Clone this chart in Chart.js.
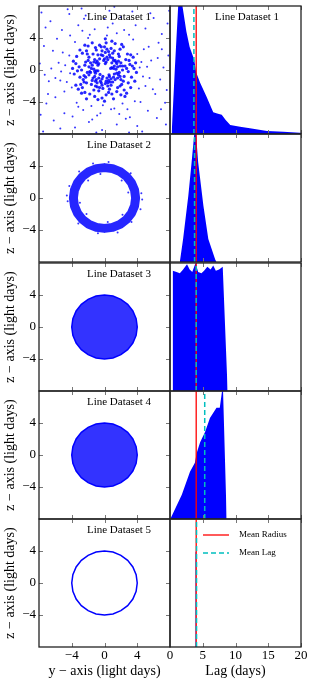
<!DOCTYPE html>
<html>
<head>
<meta charset="utf-8">
<script src="https://cdn.jsdelivr.net/npm/chart.js@4.4.0/dist/chart.umd.min.js"></script>
<style>
  html, body { margin: 0; padding: 0; background: #fff; width: 310px; height: 682px; overflow: hidden; }
  canvas { position: absolute; }
</style>
</head>
<body>
<canvas id="l0"></canvas><canvas id="l1"></canvas><canvas id="l2"></canvas><canvas id="l3"></canvas><canvas id="l4"></canvas>
<canvas id="r0"></canvas><canvas id="r1"></canvas><canvas id="r2"></canvas><canvas id="r3"></canvas><canvas id="r4"></canvas>
<script>
// ---- data ----
const datasetNames = ['Line Dataset 1', 'Line Dataset 2', 'Line Dataset 3', 'Line Dataset 4', 'Line Dataset 5'];
const legendLabels = ['Mean Radius', 'Mean Lag'];
const scatterTicks = [-4, 0, 4];
const lagTicks = [0, 5, 10, 15, 20];

const meanRadius = [4.0, 4.0, 4.0, 4.0, 4.0];
const meanLag = [3.65, 3.75, 4.0, 5.3, 4.05];

// lag distributions (normalised to the panel height)
const lag1 = [0.25, 0.75, 1.25, 1.5, 1.9, 2.5, 3.0, 3.7, 4.0, 4.6, 5.6, 6.6, 7.2, 7.9, 8.5, 9.2, 10.7, 12.2, 14.8, 17.3, 19.8, 20];
const hist1 = [0, 0.52, 1.0, 1.1, 1.0, 0.8, 0.68, 0.58, 0.48, 0.40, 0.29, 0.17, 0.16, 0.15, 0.11, 0.07, 0.057, 0.044, 0.023, 0.018, 0.01, 0.01];
const lag2 = [1.5, 2.0, 2.8, 3.3, 3.7, 3.9, 4.3, 5.1, 5.85, 6.9, 7.1];
const hist2 = [0, 0.18, 0.52, 0.78, 1.0, 1.05, 0.78, 0.44, 0.18, 0.02, 0];
const lag3 = [0.38, 0.42, 1.0, 1.5, 2.0, 2.6, 3.0, 3.4, 3.9, 4.3, 4.8, 5.2, 5.7, 6.2, 6.6, 7.0, 7.5, 8.05, 8.8];
const hist3 = [0, 0.94, 0.93, 0.92, 0.95, 0.99, 0.95, 0.93, 1.0, 0.93, 0.92, 0.94, 0.97, 0.95, 0.98, 0.94, 0.95, 0.97, 0];
const lag4 = [0.05, 1.8, 3.05, 3.8, 4.1, 4.6, 5.35, 6.1, 7.1, 7.6, 8.0, 8.1, 8.65];
const hist4 = [0, 0.19, 0.37, 0.44, 0.52, 0.6, 0.68, 0.79, 0.87, 0.87, 1.02, 1.0, 0];
const lag5 = [3.8, 3.82, 3.98, 4.0];
const hist5 = [0, 0.745, 0.745, 0];

// cloud of line dataset 1 (y, z in light days)
const cloudInner = [
  [0.75,0.2],[-0.2,-0.8],[0.1,0.8],[-0.8,-0.1],[0.55,-0.6],[-0.55,-0.55],
  [0.9,0.3],[1.2,-0.5],[-0.8,0.6],[-1.1,-0.4],[0.2,1.0],[-0.3,-1.1],[0.5,-1.3],[-0.6,1.4],[1.5,0.8],[-1.6,0.2],
  [1.8,-0.3],[-1.4,-1.0],[0.7,1.6],[-0.2,1.8],[0.1,-1.7],[1.3,1.2],[-1.2,1.3],[1.0,-1.5],[-0.9,-1.6],[1.9,0.5],
  [-1.9,-0.6],[0.4,1.3],[-0.5,-1.4],[1.6,-1.0],[-1.7,0.9],[0.9,0.9],[-1.0,0.9],[1.1,-0.9],[-0.7,-1.0],[0.0,1.4],
  [0.3,-1.0],[-1.3,0.1],[1.4,0.1],[0.6,1.9],[-0.4,1.9],[1.7,1.1],[-1.5,-1.3],[0.8,-1.9],[-1.9,0.4],[1.2,0.5],
  [-1.2,-0.2],[0.2,-1.4],[-0.1,1.2],[1.5,-0.4],[-1.5,0.6],[0.6,-0.8],[-0.7,0.8],[1.0,1.5],[-1.1,-1.4],[1.9,-0.8],
  [-0.3,-1.9],[0.4,-1.6],[-1.8,-0.2],[1.6,0.4],
  [2.5,0.5],[-2.3,1.0],[2.1,-1.8],[-2.6,-1.2],[0.8,2.7],[-1.0,2.5],[0.5,-2.8],[-0.7,-2.6],[3.0,1.2],[-3.1,0.4],
  [3.3,-0.9],[-2.9,-1.8],[1.9,2.6],[-2.2,2.4],[2.4,-2.5],[-1.8,-3.0],[0.2,3.4],[-0.3,-3.5],[3.6,0.2],[-3.7,-0.5],
  [2.8,2.0],[-2.7,2.1],[2.0,-3.1],[-2.4,-2.8],[1.3,3.3],[-1.5,3.4],[1.1,-3.6],[-1.2,-3.3],[3.5,1.6],[-3.4,1.7],
  [3.7,-1.4],[-3.5,-1.9],[2.2,0.0],[-2.1,-0.3],[0.1,2.2],[-0.2,-2.3],[2.6,1.3],[-2.5,-0.7],[1.6,-2.2],[-1.4,2.0],
  [2.9,-0.2],[-3.0,-0.9],[0.9,-3.0],[-0.6,3.1],[2.3,2.9],[-2.0,3.0],[3.2,-2.2],[-3.2,-2.4],[1.7,2.0],[-1.9,1.6],
  [2.0,-1.2],[-2.2,-1.6],[0.3,2.6],[-0.4,2.9],[0.6,-2.4],[-0.9,-2.1],[3.8,0.9],[-3.8,1.1],[2.7,-2.9],[-2.8,-2.9],
  [1.0,2.1],[-1.1,-2.0],[2.4,-0.8],[-2.4,0.6],[3.1,0.7],[-3.3,-0.1],[0.0,-3.9],[0.1,3.9],[3.9,-0.3],[-3.9,0.2],
  [1.1,0.2],[-1.0,-0.1],[0.3,1.6],[-0.4,-1.6],[1.3,-1.2],[-1.3,1.0],[0.8,-1.1],[-0.9,1.1],[1.7,-0.6],[-1.7,-0.3],
  [2.0,0.9],[-2.0,1.2],[1.2,2.4],[-1.3,-2.5],[2.3,-1.4],[-2.5,-1.5],[0.5,2.3],[-0.6,-2.2],[2.7,0.2],[-2.8,0.0],
  [1.8,1.7],[-1.6,-1.8],[1.9,-2.0],[-2.1,2.0],[0.0,2.9],[0.2,-3.1],[3.2,1.9],[-3.0,2.5],[2.5,-3.3],[-2.2,-3.6],
  [1.4,1.0],[-1.2,-0.8],[0.7,-1.5],[-0.8,1.9],[2.2,0.5],[-2.3,-0.9],[1.5,-2.7],[-1.1,2.8],[3.4,0.5],[-3.5,0.8],
  [0.9,3.6],[-0.8,-3.7],[2.9,-1.6],[-2.7,-2.2],[2.1,3.2],[-2.4,3.1],[1.1,1.2],[-1.0,-1.2],[0.4,-2.0],[-0.3,2.4]
];
const cloudOuter = [
  [4.5,1.0],[-4.3,1.8],[4.2,-2.3],[-4.6,-1.5],[1.5,4.6],[-1.8,4.4],[1.2,-4.8],[-1.6,-4.5],[5.2,0.4],[-5.3,-0.2],
  [3.5,3.8],[-3.6,3.5],[3.7,-3.9],[-3.4,-4.1],[0.4,5.3],[-0.5,-5.4],[5.0,-2.0],[-5.1,2.2],[2.4,5.0],[-2.6,-5.0],
  [4.8,2.6],[-4.9,-2.7],[2.8,-4.9],[-2.7,4.9],[5.7,1.2],[-5.6,0.9],[1.0,5.8],[-0.9,-5.7],[4.4,-4.0],[-4.2,4.3],
  [5.5,-1.0],[-5.4,-1.3],[0.3,4.3],[-0.2,-4.4],[4.3,0.3],[-4.2,-0.4],[3.0,4.4],[-3.2,-4.6],[4.0,2.0],[-4.0,-2.2],
  [2.2,-4.2],[-2.0,4.0],
  [6.5,1.5],[-6.3,2.4],[6.2,-3.0],[-6.8,-1.4],[2.0,6.6],[-2.5,6.4],[1.5,-6.8],[-1.9,-6.5],[7.2,0.3],[-7.3,-0.6],
  [5.0,5.2],[-5.2,5.0],[5.3,-5.1],[-4.9,-5.4],[0.6,7.4],[-0.3,-7.5],[7.6,-2.5],[-7.4,3.0],[3.4,7.3],[-3.6,-7.2],
  [7.0,4.5],[-7.1,-4.2],[4.0,-7.0],[-4.3,7.0],[7.8,1.8],[-7.9,0.8],[1.2,7.9],[-1.0,-7.8],[6.0,6.5],[-6.2,-6.3],
  [6.4,-6.0],[-6.6,6.1],[7.5,-6.8],[-7.7,7.2],[7.9,7.4],[-7.5,-7.7],[3.0,-7.8],[-2.8,7.7],[6.9,-4.9],[-6.0,-3.4],
  [4.7,-0.8],[-4.8,0.6],[0.8,-4.9],[-1.2,5.1],[5.9,-2.4],[-6.0,-1.0],[3.8,5.6],[-3.9,-5.8],[6.6,3.4],[-6.9,-3.0],
  [2.6,-6.1],[-2.3,6.8],[7.4,-4.1],[-7.2,5.3],[5.6,7.1],[-5.4,-7.3],[7.7,5.8],[-7.8,-5.6],[4.6,-7.7],[-4.5,7.6],
  [1.8,-5.5],[-1.5,-6.2],[5.4,2.9],[-5.8,3.9],[6.8,-1.2],[-6.5,0.2],[0.0,6.4],[3.1,-5.9],[-3.2,5.6],[7.0,2.6]
];

// ring of line dataset 2
const ring2 = [
  [3.8,0],[3.671,0.984],[3.291,1.9],[2.687,2.687],[1.9,3.291],[0.984,3.671],[0,3.8],[-0.984,3.671],[-1.9,3.291],
  [-2.687,2.687],[-3.291,1.9],[-3.671,0.984],[-3.8,0],[-3.671,-0.984],[-3.291,-1.9],[-2.687,-2.687],[-1.9,-3.291],
  [-0.984,-3.671],[0,-3.8],[0.984,-3.671],[1.9,-3.291],[2.687,-2.687],[3.291,-1.9],[3.671,-0.984],[3.8,0],[3.671,0.984]
];
const ringFuzz2 = [
  [4.5,0.6],[-4.5,-0.4],[0.5,4.5],[-0.8,-4.4],[3.2,3.1],[-3.1,3.3],[3.3,-3.0],[-3.2,-3.2],[4.4,-1.4],[-4.3,1.5],
  [1.6,-4.3],[-1.4,4.3],[2.9,0.7],[-3.0,-0.6],[0.4,-3.0],[-0.5,3.0],[2.1,2.2],[-2.2,-2.0],[2.2,-2.1],[-2.0,2.2],
  [4.6,-0.2],[-4.6,0.3]
];

// r = 4 light days shell (edge of datasets 3-5)
const circle4 = [
  [4,0],[3.864,1.035],[3.464,2],[2.828,2.828],[2,3.464],[1.035,3.864],[0,4],[-1.035,3.864],[-2,3.464],
  [-2.828,2.828],[-3.464,2],[-3.864,1.035],[-4,0],[-3.864,-1.035],[-3.464,-2],[-2.828,-2.828],[-2,-3.464],
  [-1.035,-3.864],[0,-4],[1.035,-3.864],[2,-3.464],[2.828,-2.828],[3.464,-2],[3.864,-1.035],[4,0]
];

const lags = [lag1, lag2, lag3, lag4, lag5];
const hists = [hist1, hist2, hist3, hist4, hist5];

// ---- drawing ----
const FONT = 'Liberation Serif';
const BLUE = '#0000ff';
const rowTops = [6, 134, 263, 391, 519];
const PH = 128;

function fmt(v) { return v < 0 ? '\u2212' + (-v) : String(v); }
function pts(arr) { return arr.map(p => ({ x: p[0], y: p[1] })); }

function deco(o) {
  return {
    id: 'deco',
    afterDraw(chart) {
      const ctx = chart.ctx, a = chart.chartArea, sx = chart.scales.x, sy = chart.scales.y;
      ctx.save();
      ctx.strokeStyle = '#777';
      ctx.lineWidth = 1;
      ctx.beginPath();
      o.xTicks.forEach(v => {
        const px = Math.round(sx.getPixelForValue(v)) + 0.5;
        ctx.moveTo(px, a.bottom); ctx.lineTo(px, a.bottom - 4);
        ctx.moveTo(px, a.top); ctx.lineTo(px, a.top + 4);
      });
      o.yTicks.forEach(v => {
        const py = Math.round(sy.getPixelForValue(v)) + 0.5;
        ctx.moveTo(a.left, py); ctx.lineTo(a.left + 4, py);
        ctx.moveTo(a.right, py); ctx.lineTo(a.right - 4, py);
      });
      ctx.stroke();
      ctx.strokeStyle = '#222';
      ctx.lineWidth = 1.3;
      ctx.strokeRect(a.left, a.top, a.right - a.left, a.bottom - a.top);
      ctx.fillStyle = '#000';
      ctx.textBaseline = 'middle';
      if (o.title) {
        ctx.font = '11px "' + FONT + '"';
        ctx.textAlign = 'center';
        ctx.fillText(o.title, a.left + o.titleDx, a.top + 11);
      }
      if (o.legend) {
        const lx = a.left + 33;
        ctx.lineWidth = 1.3;
        ctx.strokeStyle = '#ff0000';
        ctx.beginPath(); ctx.moveTo(lx, a.top + 16); ctx.lineTo(lx + 26, a.top + 16); ctx.stroke();
        ctx.strokeStyle = '#00bfbf';
        ctx.setLineDash([5, 3]);
        ctx.beginPath(); ctx.moveTo(lx, a.top + 34); ctx.lineTo(lx + 26, a.top + 34); ctx.stroke();
        ctx.setLineDash([]);
        ctx.font = '9px "' + FONT + '"';
        ctx.textAlign = 'left';
        ctx.fillText(legendLabels[0], lx + 36, a.top + 16);
        ctx.fillText(legendLabels[1], lx + 36, a.top + 34);
      }
      ctx.restore();
    }
  };
}

function xAxis(min, max, ticks, last, label) {
  return {
    type: 'linear', min: min, max: max, display: last,
    afterBuildTicks: s => { s.ticks = ticks.map(v => ({ value: v })); },
    afterFit: s => { s.height = last ? 35 : 0; },
    grid: { display: false, drawTicks: false },
    border: { display: false },
    ticks: { padding: 1, color: '#000', maxRotation: 0, font: { family: FONT, size: 13 }, callback: v => fmt(v) },
    title: { display: true, text: label, color: '#000', font: { family: FONT, size: 14 }, padding: { top: 0, bottom: 2 } }
  };
}

function leftDatasets(i) {
  if (i === 0) {
    return [
      { data: pts(cloudInner), pointRadius: 1.6, pointBorderWidth: 0, pointBackgroundColor: 'rgba(0,0,255,0.85)' },
      { data: pts(cloudOuter), pointRadius: 1.0, pointBorderWidth: 0, pointBackgroundColor: 'rgba(0,0,255,0.8)' }
    ];
  }
  if (i === 1) {
    return [
      { type: 'line', data: pts(ring2), borderColor: 'rgba(0,0,255,0.85)', borderWidth: 9, pointRadius: 0, fill: false, borderJoinStyle: 'round' },
      { data: pts(ringFuzz2), pointRadius: 1.0, pointBorderWidth: 0, pointBackgroundColor: 'rgba(0,0,255,0.8)' }
    ];
  }
  if (i < 4) {
    return [{ type: 'line', data: pts(circle4), borderColor: BLUE, borderWidth: 1.5, backgroundColor: 'rgba(0,0,255,0.8)', fill: 'shape', pointRadius: 0 }];
  }
  return [{ type: 'line', data: pts(circle4), borderColor: BLUE, borderWidth: 1.5, fill: false, pointRadius: 0 }];
}

function rightDatasets(i) {
  return [
    { type: 'line', data: [{ x: meanLag[i], y: 0 }, { x: meanLag[i], y: 1 }], borderColor: '#00bfbf', borderWidth: 1.5, borderDash: [5, 3], pointRadius: 0, fill: false },
    { type: 'line', data: [{ x: meanRadius[i], y: 0 }, { x: meanRadius[i], y: 1 }], borderColor: '#ff0000', borderWidth: 1.3, pointRadius: 0, fill: false },
    { type: 'line', data: lags[i].map((x, k) => ({ x: x, y: hists[i][k] })), borderColor: 'transparent', borderWidth: 0,
      backgroundColor: i === 4 ? 'rgba(70,110,255,0.75)' : BLUE, fill: 'origin', pointRadius: 0 }
  ];
}

const common = {
  responsive: false, animation: false, devicePixelRatio: 1, events: [],
  plugins: { legend: { display: false }, tooltip: { enabled: false } }
};

for (let i = 0; i < 5; i++) {
  const last = i === 4;
  const top = rowTops[i];

  // left: positions in the y-z plane
  const cl = document.getElementById('l' + i);
  cl.width = 184;
  cl.height = 14 + PH + (last ? 35 : 14);
  cl.style.left = '0px';
  cl.style.top = (top - 14) + 'px';
  new Chart(cl, {
    type: 'scatter',
    data: { datasets: leftDatasets(i) },
    options: Object.assign({}, common, {
      layout: { padding: { top: 14, bottom: last ? 0 : 14, left: 0, right: 14 } },
      scales: {
        x: xAxis(-8, 8, scatterTicks, last, 'y \u2212 axis (light days)'),
        y: {
          type: 'linear', min: -8, max: 8,
          afterBuildTicks: s => { s.ticks = scatterTicks.map(v => ({ value: v })); },
          afterFit: s => { s.width = 39; },
          grid: { display: false, drawTicks: false },
          border: { display: false },
          ticks: { padding: 3, color: '#000', font: { family: FONT, size: 13 }, callback: v => fmt(v) },
          title: { display: true, text: 'z \u2212 axis (light days)', color: '#000', font: { family: FONT, size: 14 }, padding: { top: 2, bottom: 0 } }
        }
      }
    }),
    plugins: [deco({ xTicks: scatterTicks, yTicks: scatterTicks, title: datasetNames[i], titleDx: 80 })]
  });

  // right: lag distribution
  const cr = document.getElementById('r' + i);
  cr.width = 159;
  cr.height = 14 + PH + (last ? 35 : 14);
  cr.style.left = '156px';
  cr.style.top = (top - 14) + 'px';
  new Chart(cr, {
    type: 'scatter',
    data: { datasets: rightDatasets(i) },
    options: Object.assign({}, common, {
      layout: { padding: { top: 14, bottom: last ? 0 : 14, left: 14, right: 14 } },
      scales: {
        x: xAxis(0, 20, lagTicks, last, 'Lag (days)'),
        y: { type: 'linear', min: 0, max: 1, display: false }
      }
    }),
    plugins: [deco({ xTicks: lagTicks, yTicks: [], title: i === 0 ? datasetNames[0] : null, titleDx: 77, legend: last })]
  });
}
</script>
</body>
</html>
